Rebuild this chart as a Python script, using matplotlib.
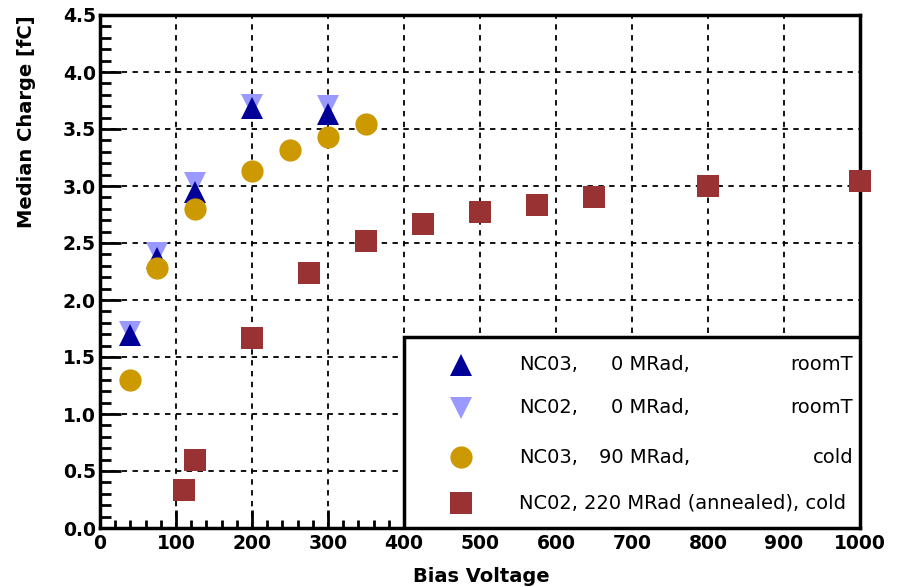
import matplotlib
matplotlib.use('Agg')
import matplotlib.pyplot as plt
from matplotlib.patches import Rectangle
from matplotlib.ticker import MultipleLocator, FormatStrFormatter

plt.rcParams['font.family'] = ['DejaVu Sans']

# NC03, 0 MRad, roomT
nc03_0_v = [40, 75, 125, 200, 300]
nc03_0_q = [1.69, 2.37, 2.95, 3.68, 3.63]
# NC02, 0 MRad, roomT
nc02_0_v = [40, 75, 125, 200, 300]
nc02_0_q = [1.72, 2.41, 3.03, 3.71, 3.70]
# NC03, 90 MRad, cold
nc03_90_v = [40, 75, 125, 200, 250, 300, 350]
nc03_90_q = [1.30, 2.28, 2.80, 3.13, 3.32, 3.43, 3.54]
# NC02, 220 MRad (annealed), cold
nc02_220_v = [110, 125, 200, 275, 350, 425, 500, 575, 650, 800, 1000]
nc02_220_q = [0.33, 0.60, 1.67, 2.24, 2.52, 2.67, 2.77, 2.83, 2.90, 3.00, 3.04]

series = [
    (nc02_0_v, nc02_0_q, 'v', '#9999ff', ['NC02,', '0 MRad,', 'roomT']),
    (nc03_0_v, nc03_0_q, '^', '#000099', ['NC03,', '0 MRad,', 'roomT']),
    (nc03_90_v, nc03_90_q, 'o', '#cc9900', ['NC03,', '90 MRad,', 'cold']),
    (nc02_220_v, nc02_220_q, 's', '#993333', ['NC02, 220 MRad (annealed), cold']),
]
legend_order = [1, 0, 2, 3]

fig = plt.figure(figsize=(9.03, 5.87), dpi=100)
ax = fig.add_axes([100 / 903, 59 / 587, 760 / 903, 513 / 587])

ax.set_xlim(0, 1000)
ax.set_ylim(0, 4.5)
ax.xaxis.set_major_locator(MultipleLocator(100))
ax.xaxis.set_minor_locator(MultipleLocator(20))
ax.yaxis.set_major_locator(MultipleLocator(0.5))
ax.yaxis.set_minor_locator(MultipleLocator(0.1))
ax.yaxis.set_major_formatter(FormatStrFormatter('%.1f'))

ax.grid(True, which='major', color='black', linestyle=(0, (3, 3)), linewidth=1.3, zorder=1)
ax.set_axisbelow(True)

ax.tick_params(axis='both', which='both', direction='in', width=2, colors='black',
               labelsize=13.5, top=False, right=False)
ax.tick_params(axis='y', which='major', length=15, pad=3)
ax.tick_params(axis='y', which='minor', length=8)
ax.tick_params(axis='x', which='major', length=13, pad=4)
ax.tick_params(axis='x', which='minor', length=6)
for lab in ax.get_xticklabels() + ax.get_yticklabels():
    lab.set_fontweight('bold')
for sp in ax.spines.values():
    sp.set_linewidth(2.5)

for v, q, m, c, _ in series:
    ax.plot(v, q, linestyle='none', marker=m, color=c, markersize=16,
            markeredgewidth=0, zorder=3, clip_on=False)

# legend box
ax.add_patch(Rectangle((0.4, 0.0), 0.6, 0.372, transform=ax.transAxes,
                       facecolor='white', edgecolor='black', linewidth=2.5, zorder=4))
rows_y = [0.318, 0.234, 0.138, 0.049]
for yy, idx in zip(rows_y, legend_order):
    _, _, m, c, txt = series[idx]
    ax.plot([0.475], [yy], transform=ax.transAxes, linestyle='none', marker=m,
            color=c, markersize=16, markeredgewidth=0, zorder=5, clip_on=False)
    if len(txt) == 3:
        ax.text(0.551, yy, txt[0], transform=ax.transAxes, ha='left', va='center',
                fontsize=14, zorder=6)
        ax.text(0.776, yy, txt[1], transform=ax.transAxes, ha='right', va='center',
                fontsize=14, zorder=6)
        ax.text(0.991, yy, txt[2], transform=ax.transAxes, ha='right', va='center',
                fontsize=14, zorder=6)
    else:
        ax.text(0.551, yy, txt[0], transform=ax.transAxes, ha='left', va='center',
                fontsize=14, zorder=6)

fig.text(27 / 903, 1 - 15 / 587, 'Median Charge [fC]', rotation=90, ha='center',
         va='top', fontsize=14, fontweight='bold')
fig.text(481 / 903, 1 - 577 / 587, 'Bias Voltage', ha='center', va='center',
         fontsize=14, fontweight='bold')

fig.savefig('out.png', dpi=100, facecolor='white')
